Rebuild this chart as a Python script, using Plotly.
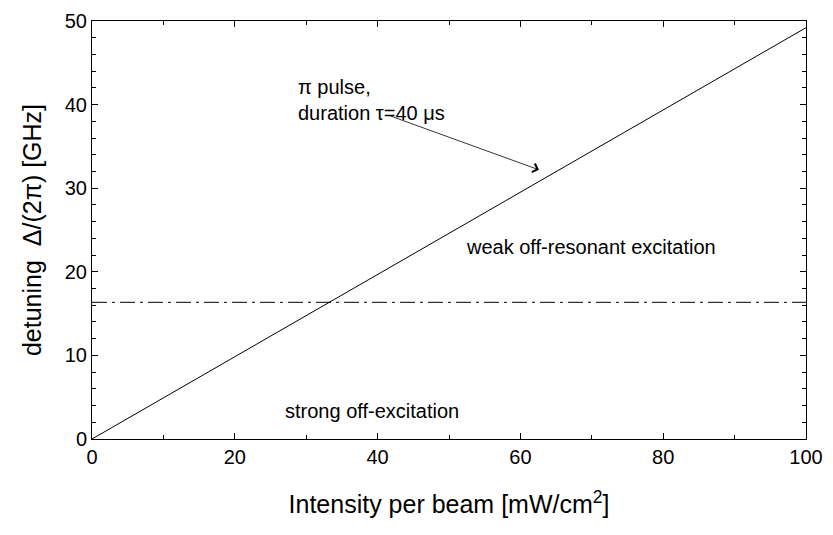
import plotly.graph_objects as go

# Data
intensity = [0, 100]
detuning = [0, 49.2]
threshold_x = [0, 100]
threshold_y = [16.35, 16.35]

arrow_tail = (41.6, 38.7)
arrow_head = (62.6, 32.2)

font_family = "Liberation Sans, Arial, sans-serif"

fig = go.Figure()
fig.add_trace(go.Scatter(x=intensity, y=detuning, mode="lines",
                         line=dict(color="black", width=1), showlegend=False))
fig.add_trace(go.Scatter(x=threshold_x, y=threshold_y, mode="lines",
                         line=dict(color="black", width=1, dash="15px,5px,3px,5px"),
                         showlegend=False))

fig.add_annotation(x=arrow_head[0], y=arrow_head[1], ax=arrow_tail[0], ay=arrow_tail[1],
                   xref="x", yref="y", axref="x", ayref="y", text="",
                   showarrow=True, arrowhead=4, arrowsize=2.2, arrowwidth=0.8,
                   arrowcolor="black")

fig.add_annotation(x=28.6, y=40.6, xref="x", yref="y", xanchor="left", yanchor="middle",
                   text="π pulse,<br>duration τ=40 μs", showarrow=False, align="left",
                   font=dict(size=20, color="black", family=font_family))
fig.add_annotation(x=52.1, y=23.0, xref="x", yref="y", xanchor="left", yanchor="middle",
                   text="weak off-resonant excitation", showarrow=False,
                   font=dict(size=20, color="black", family=font_family))
fig.add_annotation(x=26.8, y=3.3, xref="x", yref="y", xanchor="left", yanchor="middle",
                   text="strong off-excitation", showarrow=False,
                   font=dict(size=20, color="black", family=font_family))

axis_common = dict(showgrid=False, zeroline=False, showline=True, linecolor="black",
                   linewidth=1, mirror="allticks", ticks="inside", ticklen=6,
                   tickcolor="black", tickwidth=1, ticklabeloverflow="allow",
                   tickfont=dict(size=20, color="black", family=font_family))

fig.update_xaxes(range=[0, 100], tick0=0, dtick=20,
                 minor=dict(ticks="inside", ticklen=4, dtick=10, tickcolor="black"),
                 title=dict(text="Intensity per beam [mW/cm<sup>2</sup>]", standoff=28,
                            font=dict(size=25, color="black", family=font_family)),
                 **axis_common)
fig.update_yaxes(range=[0, 50], tick0=0, dtick=10,
                 minor=dict(ticks="inside", ticklen=4, dtick=2, tickcolor="black"),
                 title=dict(text="detuning  Δ/(2π) [GHz]", standoff=16,
                            font=dict(size=25, color="black", family=font_family)),
                 **axis_common)

fig.update_layout(width=833, height=535, margin=dict(l=92, r=20, t=10, b=96),
                  plot_bgcolor="white", paper_bgcolor="white")

fig.write_html("out.html", config={"displayModeBar": False},
               post_script="document.body.style.margin='0';document.body.style.overflow='hidden';")
